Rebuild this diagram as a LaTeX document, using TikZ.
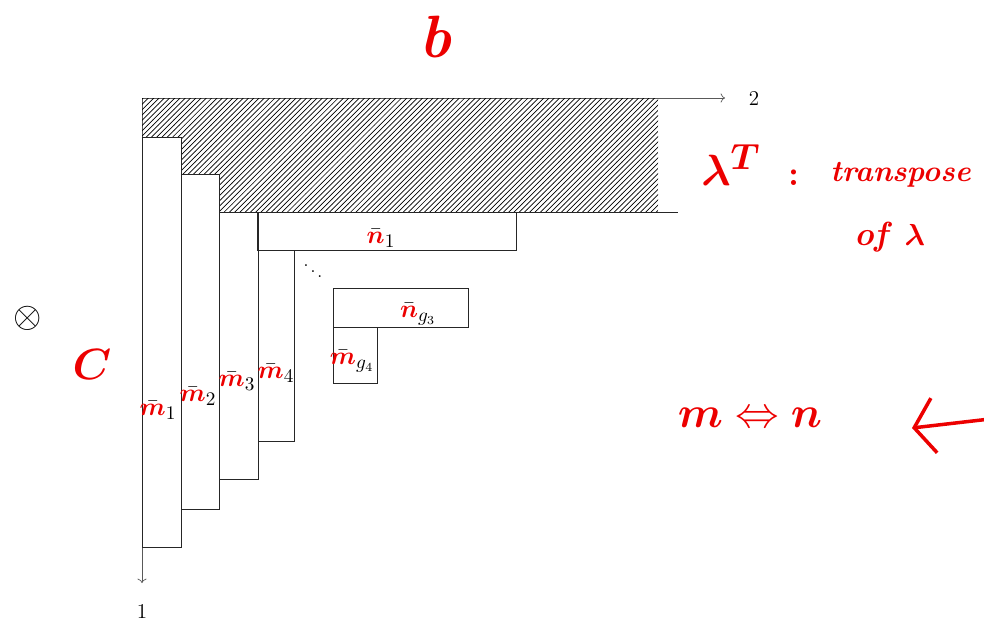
\documentclass[tikz,border=0pt]{standalone}
\usepackage{amsmath,amssymb}
\usepackage{tikz}
\usepackage{xcolor}
\usetikzlibrary{patterns,arrows.meta}

\definecolor{pen}{RGB}{236,0,0}
\newcommand{\penm}{\textcolor{pen}{\boldsymbol{m}}}
\newcommand{\penn}{\textcolor{pen}{\boldsymbol{n}}}

\begin{document}
\begin{tikzpicture}[x=0.02cm, y=-0.02cm,
  axis/.style={black!65, thin},
  cell/.style={draw=black!85, thin},
  lab/.style={inner sep=0pt, font=\fontsize{15}{18}\selectfont},
  note/.style={text=pen, inner sep=0pt}]
  \useasboundingbox (0,0) rectangle (984,626);

  % Axes 1 and 2
  \coordinate (O) at (142,98);
  \coordinate (X) at (725,98);
  \coordinate (Y) at (142,583);
  \draw[axis, ->] (O) -- (X);
  \draw[axis, ->] (O) -- (Y);
  \node[font=\fontsize{12}{14}\selectfont] (lx) at (754,99) {$2$};
  \node[font=\fontsize{12}{14}\selectfont] (ly) at (142,612) {$1$};

  % Hatched part above the columns
  \fill[pattern=north east lines] (O) -- (658,98) -- (658,212) -- (219,212)
    -- (219,174) -- (181,174) -- (181,137) -- (142,137) -- cycle;
  \draw[cell] (219,212) -- (678,212);

  % Box macro: #1,#2 = top left, #3,#4 = bottom right
  \newcommand{\cellbox}[4]{\draw[cell] (#1,#2) rectangle (#3,#4);}

  % Columns
  \cellbox{142}{137}{181}{547}
  \cellbox{181}{174}{219}{509}
  \cellbox{219}{212}{258}{479}
  \cellbox{258}{250}{294}{441}

  % Rows
  \cellbox{257}{212}{516}{250}
  \cellbox{333}{288}{468}{327}
  \cellbox{333}{327}{377}{383}

  % Labels
  \node[lab] (m1) at (158,410) {$\bar{\penm}_1$};
  \node[lab] (m2) at (198,396) {$\bar{\penm}_2$};
  \node[lab] (m3) at (237,381) {$\bar{\penm}_3$};
  \node[lab] (m4) at (276,373) {$\bar{\penm}_4$};
  \node[lab] (n1) at (381,238) {$\bar{\penn}_1$};
  \node[lab] (ng3) at (418,314) {$\bar{\penn}_{g_3}$};
  \node[lab] (mg4) at (352,361) {$\bar{\penm}_{g_4}$};
  \node (dd) at (313,266) {$\ddots$};
  \node (ot) at (28,318) {\huge$\otimes$};

  % Red notes
  \node[note, font=\fontsize{34}{38}\selectfont\bfseries\itshape] (b) at (435,37) {b};
  \node[note, font=\fontsize{28}{32}\selectfont] (C) at (92,364) {$\boldsymbol{C}$};
  \node[note, font=\fontsize{28}{32}\selectfont] (lt) at (731,165) {$\boldsymbol{\lambda}^{\boldsymbol{T}}$};
  \node[note, font=\fontsize{20}{24}\selectfont\bfseries] (colon) at (794,178) {:};
  \node[note, font=\fontsize{17}{20}\selectfont\bfseries\itshape, anchor=west] (tr) at (830,175) {transpose};
  \node[note, font=\fontsize{19}{22}\selectfont\bfseries\itshape] (of) at (890,237) {of\enspace$\boldsymbol{\lambda}$};
  \node[note, font=\fontsize{25}{30}\selectfont] (mn) at (750,418) {$\boldsymbol{m}\Leftrightarrow\boldsymbol{n}$};

  % Red arrow at the right edge
  \coordinate (arrS) at (990,419);
  \coordinate (arrE) at (912,428);
  \draw[pen, line width=2pt, -{Straight Barb[length=4mm, width=11mm]}] (arrS) -- (arrE);
\end{tikzpicture}
\end{document}
